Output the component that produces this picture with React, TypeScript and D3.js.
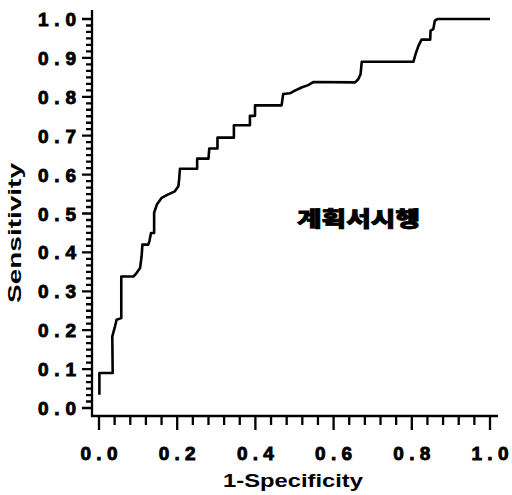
import React from "react";
import * as d3 from "d3";

// ROC curve vertices (1-specificity, sensitivity)
const fpr = [
  0.001, 0.001, 0.035, 0.034, 0.041, 0.045, 0.057, 0.057, 0.088, 0.096, 0.105, 0.109, 0.111,
  0.126, 0.129, 0.133, 0.141, 0.141, 0.148, 0.16, 0.177, 0.194, 0.203, 0.205, 0.207, 0.251,
  0.251, 0.28, 0.282, 0.303, 0.303, 0.345, 0.345, 0.386, 0.386, 0.399, 0.399, 0.467, 0.471,
  0.488, 0.501, 0.518, 0.535, 0.548, 0.655, 0.663, 0.669, 0.672, 0.804, 0.811, 0.817, 0.825,
  0.847, 0.848, 0.855, 0.859, 0.866, 1.0,
];
const tpr = [
  0.034, 0.09, 0.09, 0.184, 0.21, 0.227, 0.231, 0.338, 0.338, 0.347, 0.36, 0.39, 0.42,
  0.42, 0.429, 0.45, 0.45, 0.502, 0.523, 0.54, 0.549, 0.557, 0.57, 0.588, 0.615, 0.615,
  0.641, 0.641, 0.667, 0.667, 0.695, 0.695, 0.727, 0.727, 0.751, 0.751, 0.778, 0.778, 0.807,
  0.809, 0.816, 0.824, 0.83, 0.838, 0.837, 0.845, 0.858, 0.89, 0.89, 0.914, 0.931, 0.947,
  0.947, 0.97, 0.974, 0.996, 1.0, 1.0,
];
const tickLabels = ["0.0", "0.1", "0.2", "0.3", "0.4", "0.5", "0.6", "0.7", "0.8", "0.9", "1.0"];
const xTickLabels = ["0.0", "0.2", "0.4", "0.6", "0.8", "1.0"];
const groupLabel = "계획서시행";

const font = "'Liberation Sans', Arial, sans-serif";

export default function App() {
  const width = 512, height = 495;
  const x = d3.scaleLinear().domain([0, 1]).range([99, 490]);
  const y = d3.scaleLinear().domain([0, 1]).range([408, 19]);
  const axisX = 92, axisY = 416;

  const yMinor = d3.range(0, 61).map((i) => i / 60);
  const xMinor = d3.range(0, 26).map((i) => i * 0.04);

  const pts = fpr.map((f, i) => [f, tpr[i]] as [number, number]);
  const line = d3.line<[number, number]>().x((d) => x(d[0])).y((d) => y(d[1]));

  // axis frame plus all tick marks in one path
  const p = d3.path();
  p.moveTo(axisX, 10);
  p.lineTo(axisX, axisY);
  p.lineTo(498, axisY);
  yMinor.forEach((d) => { p.moveTo(axisX - 6, y(d)); p.lineTo(axisX, y(d)); });
  tickLabels.forEach((d) => { p.moveTo(axisX - 10, y(+d)); p.lineTo(axisX, y(+d)); });
  xMinor.forEach((d) => { p.moveTo(x(d), axisY); p.lineTo(x(d), axisY + 9); });
  xTickLabels.forEach((d) => { p.moveTo(x(+d), axisY); p.lineTo(x(+d), axisY + 14); });

  return (
    <svg width={width} height={height}
      style={{ position: "absolute", left: 0, top: 0, display: "block" }}>
      <path d={p.toString()} stroke="#000" strokeWidth={2.3} fill="none" />

      {tickLabels.map((d) => (
        <text key={"yl" + d} x={76} y={y(+d) + 7} textAnchor="end"
          textLength={38} lengthAdjust="spacing" stroke="#000" strokeWidth={0.9}
          fontFamily={font} fontWeight="bold" fontSize={19}>{d}</text>
      ))}
      {xTickLabels.map((d) => (
        <text key={"xl" + d} x={x(+d)} y={460} textAnchor="middle"
          textLength={37} lengthAdjust="spacing" stroke="#000" strokeWidth={0.9}
          fontFamily={font} fontWeight="bold" fontSize={19}>{d}</text>
      ))}

      {/* axis titles */}
      <text x={293} y={487} textAnchor="middle" textLength={140} lengthAdjust="spacingAndGlyphs"
        fontFamily={font} fontWeight="bold" fontSize={18}>1-Specificity</text>
      <text transform="translate(21,233) rotate(-90)" textAnchor="middle" textLength={140}
        lengthAdjust="spacingAndGlyphs" fontFamily={font} fontWeight="bold" fontSize={18}>
        Sensitivity
      </text>

      {/* ROC curve */}
      <path d={line(pts) ?? ""} fill="none" stroke="#000" strokeWidth={2.6} strokeLinejoin="round" />

      {/* group label */}
      <text x={297} y={226} textLength={123} lengthAdjust="spacingAndGlyphs" stroke="#000"
        strokeWidth={0.8} fontFamily="'Noto Sans CJK KR', sans-serif" fontWeight={900}
        fontSize={21}>{groupLabel}</text>
    </svg>
  );
}
